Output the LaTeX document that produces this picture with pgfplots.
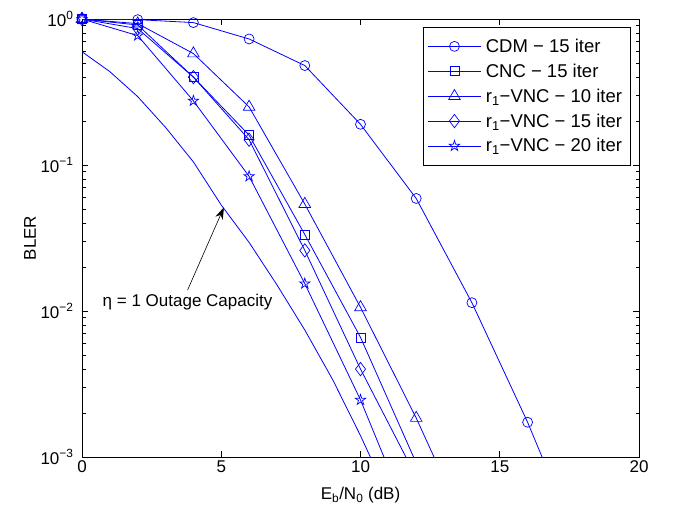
\documentclass[border=0pt]{standalone}
\usepackage{fontspec}
\setmainfont{Liberation Sans}
\usepackage{pgfplots}
\pgfplotsset{compat=1.18}
\usetikzlibrary{arrows.meta}
\definecolor{mblue}{RGB}{0,0,255}
\pgfdeclareplotmark{pentagram}{%
  \pgfpathmoveto{\pgfpointpolar{90}{\pgfplotmarksize}}%
  \pgfpathlineto{\pgfpointpolar{126}{0.382*\pgfplotmarksize}}%
  \pgfpathlineto{\pgfpointpolar{162}{\pgfplotmarksize}}%
  \pgfpathlineto{\pgfpointpolar{198}{0.382*\pgfplotmarksize}}%
  \pgfpathlineto{\pgfpointpolar{234}{\pgfplotmarksize}}%
  \pgfpathlineto{\pgfpointpolar{270}{0.382*\pgfplotmarksize}}%
  \pgfpathlineto{\pgfpointpolar{306}{\pgfplotmarksize}}%
  \pgfpathlineto{\pgfpointpolar{342}{0.382*\pgfplotmarksize}}%
  \pgfpathlineto{\pgfpointpolar{18}{\pgfplotmarksize}}%
  \pgfpathlineto{\pgfpointpolar{54}{0.382*\pgfplotmarksize}}%
  \pgfpathclose
  \pgfusepathqstroke
}
\pgfplotsset{blueline/.style={color=mblue, draw=mblue, line width=0.8bp, mark options={solid, color=mblue, draw=mblue, fill=none, line width=0.7bp}}}
\begin{document}
\begin{tikzpicture}[font=\fontsize{17bp}{20bp}\selectfont]
\path[use as bounding box] (0,0) rectangle (674bp,513bp);
\begin{axis}[
  at={(82bp,56bp)}, anchor=south west,
  scale only axis, width=557bp, height=438bp,
  xmin=0, xmax=20, ymin=1e-3, ymax=1, ymode=log,
  xtick={0,5,10,15,20}, xticklabels={0,5,10,15,20},
  ytick={1e-3,1e-2,1e-1,1},
  yticklabels={{10\textsuperscript{−3}},{10\textsuperscript{−2}},{10\textsuperscript{−1}},{10\textsuperscript{0}}},
  minor ytick={2e-3,3e-3,4e-3,5e-3,6e-3,7e-3,8e-3,9e-3,2e-2,3e-2,4e-2,5e-2,6e-2,7e-2,8e-2,9e-2,0.2,0.3,0.4,0.5,0.6,0.7,0.8,0.9},
  tick align=inside, major tick length=6bp, minor tick length=3.5bp,
  axis line style={line width=0.8bp},
  every tick/.style={black, line width=0.6bp},
  every mark/.append style={mblue},
  yticklabel style={xshift=-5bp},
  xlabel={E\textsubscript{b}/N\textsubscript{0} (dB)},
  ylabel={BLER},
  xlabel style={at={(axis description cs:0.5,-0.098)}, anchor=base},
  ylabel style={at={(axis description cs:-0.0934,0.5)}, anchor=center},
  legend cell align=left,
  legend style={at={(axis description cs:0.9856,0.9817)}, anchor=north east,
    draw=black, line width=0.8bp, inner xsep=4bp, inner ysep=7bp,
    font=\fontsize{18.5bp}{22bp}\selectfont,
    nodes={inner sep=4.5bp}, row sep=1bp},
  legend image code/.code={\draw[mark repeat=2,mark phase=2] plot coordinates {(0bp,0bp) (26.5bp,0bp) (53bp,0bp)};},
]
\addplot[blueline, mark=o, mark size=5bp] coordinates {
 (0,0.999) (2,0.99) (4,0.945) (6,0.73) (8,0.48) (10,0.19) (12,0.059) (14,0.0114) (16,0.00173) (18,0.00021)};
\addlegendentry{CDM − 15 iter}
\addplot[blueline, mark=square, mark size=4.5bp] coordinates {
 (0,0.999) (2,0.91) (4,0.40) (6,0.16) (8,0.0334) (10,0.0066) (12,0.00091)};
\addlegendentry{CNC − 15 iter}
\addplot[blueline, mark=triangle, mark size=6.7bp] coordinates {
 (0,0.999) (2,0.93) (4,0.58) (6,0.25) (8,0.054) (10,0.0106) (12,0.00185) (14,0.00027)};
\addlegendentry{r\textsubscript{1}−VNC − 10 iter}
\addplot[blueline, mark=diamond, mark size=6.7bp] coordinates {
 (0,0.999) (2,0.86) (4,0.40) (6,0.149) (8,0.026) (10,0.0040) (12,0.00073)};
\addlegendentry{r\textsubscript{1}−VNC − 15 iter}
\addplot[blueline, mark=pentagram, mark size=5.5bp] coordinates {
 (0,0.999) (2,0.77) (4,0.275) (6,0.0836) (8,0.0154) (10,0.00246) (12,0.00029)};
\addlegendentry{r\textsubscript{1}−VNC − 20 iter}
\addplot[blueline, mark=none, forget plot] coordinates {
 (0,0.597) (1,0.436) (2,0.294) (3,0.181) (4,0.105) (5,0.0532) (6,0.0295) (7,0.0151) (8,0.00741) (9,0.00339) (10,0.0014) (11,0.00054)};
\draw[black, line width=0.6bp, -{Stealth[length=12bp,width=8bp]}] (axis cs:3.79,0.0139) -- (axis cs:5.095,0.0513);
\node[black, anchor=center] at (axis cs:3.79,0.0115) {η = 1 Outage Capacity};
\end{axis}
\end{tikzpicture}
\end{document}
